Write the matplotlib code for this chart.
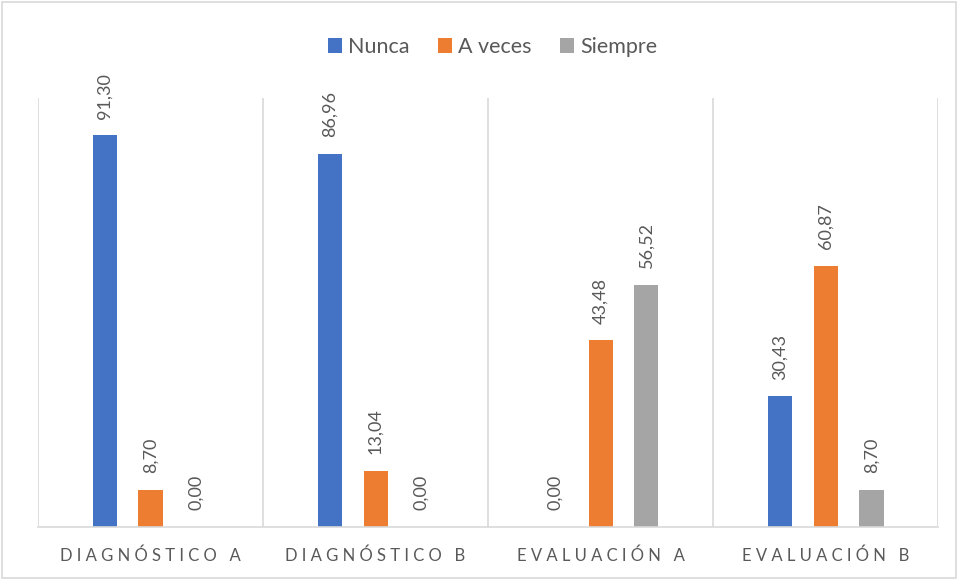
import numpy as np
import matplotlib.pyplot as plt

categories = ["Diagnóstico A", "Diagnóstico B", "Evaluación A", "Evaluación B"]
series_names = ["Nunca", "A veces", "Siempre"]
nunca = [91.30, 86.96, 0.00, 30.43]
a_veces = [8.70, 13.04, 43.48, 60.87]
siempre = [0.00, 0.00, 56.52, 8.70]
colors = ["#4472C4", "#ED7D31", "#A5A5A5"]

text_color = "#595959"
grid_color = "#D9D9D9"

plt.rcParams['font.family'] = ['Lato', 'DejaVu Sans']

fig = plt.figure(figsize=(9.58, 5.8), dpi=100)
ax = fig.add_axes([0.0397, 0.0914, 0.9395, 0.7396])

x = np.arange(len(categories))
width = 0.107
offsets = [-0.204, 0.0, 0.204]

for vals, name, col, off in zip([nunca, a_veces, siempre], series_names, colors, offsets):
    bars = ax.bar(x + off, vals, width, color=col, label=name)
    for b, v in zip(bars, vals):
        ax.annotate(f"{v:.2f}".replace(".", ","),
                    xy=(b.get_x() + b.get_width() / 2, b.get_height()),
                    xytext=(0, 12), textcoords="offset points",
                    rotation=90, ha="center", va="bottom",
                    fontsize=13, color=text_color)

ax.set_xlim(-0.5, len(categories) - 0.5)
ax.set_ylim(0, 100)
ax.set_yticks([])

# category separators
for b in np.arange(len(categories) + 1) - 0.5:
    ax.axvline(b, color=grid_color, lw=1.2, zorder=0)

for s in ["top", "right", "left"]:
    ax.spines[s].set_visible(False)
ax.spines["bottom"].set_color(grid_color)
ax.spines["bottom"].set_linewidth(1.2)

spaced = [" ".join(c.upper()) for c in categories]
ax.set_xticks(x)
ax.set_xticklabels(spaced, fontsize=12, color=text_color)
ax.tick_params(axis="x", length=0, pad=15)

fig.legend(loc="center", bbox_to_anchor=(0.514, 0.919), ncol=3, frameon=False,
           fontsize=15.5, handlelength=0.65, handleheight=0.65, handletextpad=0.3,
           columnspacing=1.3, labelcolor=text_color)

fig.patches.append(plt.Rectangle((0.002, 0.003), 0.996, 0.994, transform=fig.transFigure,
                                 fill=False, edgecolor=grid_color, lw=1.2))

fig.savefig("out.png", dpi=100, facecolor="white")
